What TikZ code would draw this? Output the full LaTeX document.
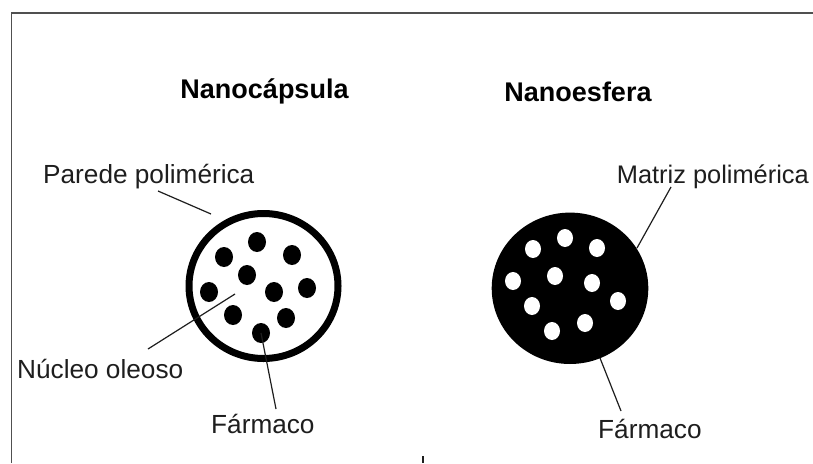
\documentclass[tikz,border=0pt]{standalone}
\usepackage{fontspec}
\setmainfont{Liberation Sans}
\usetikzlibrary{shapes.geometric}
\definecolor{txt}{HTML}{1E1E1E}
\definecolor{frame}{HTML}{505050}
\tikzset{
  lbl/.style={inner sep=0pt, anchor=base west, text=txt, font=\fontsize{26.2}{30}\selectfont},
  ttl/.style={inner sep=0pt, anchor=base, text=black, font=\fontsize{27}{30}\selectfont\bfseries},
  ring/.style={draw=black, line width=7pt, fill=white, ellipse, inner sep=0pt, minimum width=149pt, minimum height=145pt},
  solid ball/.style={fill=black, ellipse, inner sep=0pt, minimum width=18pt, minimum height=20pt},
  hole/.style={fill=white, ellipse, inner sep=0pt, minimum width=16pt, minimum height=18pt},
  ball/.style={fill=black, ellipse, inner sep=0pt, minimum width=156.6pt, minimum height=151.4pt},
  lead/.style={draw=txt, line width=1.2pt}
}
\begin{document}
\begin{tikzpicture}[x=1pt,y=-1pt]
\useasboundingbox (0,0) rectangle (813,463);
\fill[white] (0,0) rectangle (813,463);
% frame
\draw[frame, line width=1.5pt] (11.5,463) -- (11.5,13) -- (813,13);
\draw[txt, line width=1.5pt] (423,456) -- (423,463);

% titles
\node[ttl] (t1) at (264.5,98) {Nanocápsula};
\node[ttl] (t2) at (578,101) {Nanoesfera};

% nanocapsule
\node[ring] (cap) at (263.5,286) {};
\foreach \n/\x/\y in {1/257/242, 2/224/257, 3/292/255, 4/247/275, 5/209/292, 6/274/292, 7/307/288, 8/233/315, 9/286/318, 10/261/333}
  \node[solid ball] (d\n) at (\x,\y) {};

% nanosphere
\node[ball] (sph) at (570,288.3) {};
\foreach \n/\x/\y in {1/565/238, 2/533/249, 3/597/248, 4/555/276, 5/513/281, 6/592/283, 7/618/301, 8/532/306, 9/585/323, 10/552/331}
  \node[hole] (h\n) at (\x,\y) {};

% labels
\node[lbl] (pared) at (43,183) {Parede polimérica};
\node[lbl] (nucleo) at (17,378) {Núcleo oleoso};
\node[lbl] (farm1) at (211,433) {Fármaco};
\node[lbl, anchor=base east, font=\fontsize{25.4}{30}\selectfont] (matriz) at (809,183) {Matriz polimérica};
\node[lbl] (farm2) at (598,438) {Fármaco};

% leader lines
\coordinate (pA) at (158,191);
\coordinate (pB) at (211,214);
\coordinate (nA) at (148,349);
\coordinate (nB) at (235,294);
\coordinate (fA) at (276,409);
\coordinate (mA) at (671,187);
\coordinate (mB) at (637,248);
\coordinate (gA) at (600,358);
\coordinate (gB) at (621,411);
\draw[lead] (pA) -- (pB);
\draw[lead] (nA) -- (nB);
\draw[lead] (d10.center) -- (fA);
\draw[lead] (mB) -- (mA);
\draw[lead] (gA) -- (gB);
\end{tikzpicture}
\end{document}
